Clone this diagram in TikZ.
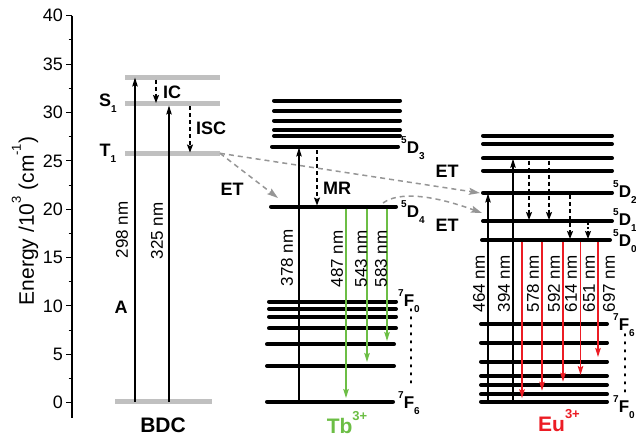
\documentclass[tikz,border=0pt]{standalone}
\usepackage{fontspec}
\setmainfont{Liberation Sans}
\usetikzlibrary{arrows.meta}
\definecolor{lvlgray}{RGB}{192,192,192}
\definecolor{etgray}{RGB}{150,150,150}
\definecolor{tbgreen}{RGB}{108,190,69}
\definecolor{eured}{RGB}{236,28,36}
\newcommand\lsup[1]{\raisebox{0.62em}{\fontsize{10}{10}\selectfont #1}}
\newcommand\lsub[1]{\raisebox{-0.32em}{\fontsize{10}{10}\selectfont #1}}
\newcommand\ionsup[1]{\raisebox{0.62em}{\fontsize{13}{13}\selectfont #1}}
\begin{document}
\begin{tikzpicture}[x=1pt,y=-1pt,
  gl/.style={line width=5pt, draw=lvlgray},
  lvl/.style={line width=4pt, line cap=round},
  arr/.style={line width=1.1pt, -{Stealth[length=9pt,width=5.5pt,inset=1.5pt]}},
  rarr/.style={line width=1.3pt, draw=eured, -{Stealth[length=9pt,width=5.5pt,inset=1.5pt,fill=eured]}},
  garr/.style={line width=1.3pt, draw=tbgreen, -{Stealth[length=9pt,width=5.5pt,inset=1.5pt,fill=tbgreen]}},
  darr/.style={line width=1.5pt, dash pattern=on 4pt off 3pt, -{Stealth[length=8pt,width=6pt,inset=1.5pt]}},
  etarr/.style={draw=etgray, line width=1.5pt, dash pattern=on 5pt off 4pt, -{Stealth[length=11pt,width=7pt,inset=2pt,fill=etgray]}},
  blab/.style={font=\fontsize{18}{18}\selectfont\bfseries, inner sep=0pt},
  nm/.style={font=\fontsize{17}{17}\selectfont, rotate=90, inner sep=0pt},
  tick/.style={font=\fontsize{18}{18}\selectfont, inner sep=0pt, anchor=east},
  slab/.style={font=\fontsize{17}{17}\selectfont\bfseries, inner sep=0pt, anchor=west},
  ]
\useasboundingbox (0,0) rectangle (636,437);
% ---------- axis ----------
\draw[line width=1.1pt] (72,15.5) -- (72,418);
\foreach \v in {0,5,...,40}{
  \draw[line width=1pt] (66,{402.6-9.67*\v}) -- (72,{402.6-9.67*\v});
  \node[tick] (tick\v) at (63,{402.6-9.67*\v}) {\v};
}
\foreach \v in {2.5,7.5,...,37.5}{
  \draw[line width=1pt] (68.5,{402.6-9.67*\v}) -- (72,{402.6-9.67*\v});
}
\node[rotate=90, font=\fontsize{21}{21}\selectfont, inner sep=0pt] (ylab) at (25,221)
  {Energy /10\raisebox{0.62em}{\fontsize{13}{13}\selectfont 3} (cm\raisebox{0.62em}{\fontsize{13}{13}\selectfont -1})};
% ---------- BDC ----------
\draw[gl] (125,77.3) -- (220,77.3);
\draw[gl] (125,103.3) -- (220,103.3);
\draw[gl] (125,153.3) -- (220,153.3);
\draw[gl] (115,401.7) -- (212,401.7);
\draw[arr] (135,401.7) -- (135,77.5);
\draw[arr] (169,401.7) -- (169,105.5);
\draw[darr] (156,79.5) -- (156,103);
\draw[darr] (190,106) -- (190,152.5);
\node[font=\fontsize{18}{18}\selectfont\bfseries, inner sep=0pt] (S1) at (108,103) {S\lsub{1}};
\node[font=\fontsize{18}{18}\selectfont\bfseries, inner sep=0pt] (T1) at (108,153) {T\lsub{1}};
\node[blab] (IC) at (172,92) {IC};
\node[blab] (ISC) at (211,128) {ISC};
\node[nm] (n298) at (122,230) {298 nm};
\node[nm] (n325) at (157,231) {325 nm};
\node[blab] (A) at (121,307) {A};
\node[blab] (ET1) at (232,189) {ET};
\node[font=\fontsize{21}{21}\selectfont\bfseries, inner sep=0pt] (BDC) at (163,425) {BDC};
% ---------- Tb ----------
\foreach \y in {100.7,111,120.7,130,136}{\draw[lvl] (274,\y) -- (400,\y);}
\draw[lvl] (272,146.7) -- (398,146.7);
\draw[lvl] (271,206.7) -- (396,206.7);
\foreach \y in {301.7,309,316.7,328.3}{\draw[lvl] (269,\y) -- (396,\y);}
\foreach \y in {344.3,366}{\draw[lvl] (267,\y) -- (394,\y);}
\draw[lvl] (267,401.7) -- (393,401.7);
\draw[arr] (299,401.7) -- (299,147.5);
\draw[darr] (317,150) -- (317,205.5);
\node[blab] (MR) at (337,188) {MR};
\draw[garr] (346,208.5) -- (346,398);
\draw[garr] (367,208.5) -- (367,362);
\draw[garr] (387,208.5) -- (387,341);
\node[nm] (n378) at (287,258) {378 nm};
\node[nm] (n487) at (337,259) {487 nm};
\node[nm] (n543) at (361,259) {543 nm};
\node[nm] (n583) at (381,259) {583 nm};
\node[slab] (D3) at (401,148) {\lsup{5}D\lsub{3}};
\node[slab] (D4) at (401,212) {\lsup{5}D\lsub{4}};
\node[slab] (F0t) at (398,301) {\lsup{7}F\lsub{0}};
\node[slab] (F6t) at (398,403) {\lsup{7}F\lsub{6}};
\draw[line width=1.8pt, dash pattern=on 1.6pt off 6.4pt, line cap=round] (411,309) -- (411,388);
\node[font=\fontsize{21}{21}\selectfont\bfseries, inner sep=0pt, text=tbgreen] (Tb) at (347,423) {Tb\ionsup{3+}};
% ---------- Eu ----------
\foreach \y in {135.7,144,158.3,170.7,192.7,221}{\draw[lvl] (483,\y) -- (612,\y);}
\draw[lvl] (482,240) -- (610,240);
\foreach \y in {324,342.7,361.7,376,385,394.3,401.7}{\draw[lvl] (481,\y) -- (607,\y);}
\draw[arr] (488,401.7) -- (488,193.5);
\draw[arr] (513,401.7) -- (513,158.8);
\draw[darr] (529,160.5) -- (529,220);
\draw[darr] (549,160.5) -- (549,220);
\draw[darr] (570,195) -- (570,239);
\draw[line width=1.2pt, dash pattern=on 2pt off 2pt, -{Stealth[length=8pt,width=6pt,inset=1.5pt]}] (588,223) -- (588,239);
\draw[rarr] (522,242) -- (522,398.3);
\draw[rarr] (542,242) -- (542,390.7);
\draw[rarr] (563,242) -- (563,381.7);
\draw[rarr] (580.5,242) -- (580.5,375);
\draw[rarr] (598,242) -- (598,357);
\node[nm] (n464) at (479,284) {464 nm};
\node[nm] (n394) at (504,284) {394 nm};
\node[nm] (n578) at (533,284) {578 nm};
\node[nm] (n592) at (554,284) {592 nm};
\node[nm] (n614) at (571,284) {614 nm};
\node[nm] (n651) at (589,284) {651 nm};
\node[nm] (n697) at (609,284) {697 nm};
\node[slab] (D2) at (613,192) {\lsup{5}D\lsub{2}};
\node[slab] (D1) at (613,220) {\lsup{5}D\lsub{1}};
\node[slab] (D0) at (613,241) {\lsup{5}D\lsub{0}};
\node[slab] (F6e) at (613,325) {\lsup{7}F\lsub{6}};
\node[slab] (F0e) at (613,407) {\lsup{7}F\lsub{0}};
\draw[line width=1.8pt, dash pattern=on 1.6pt off 6.4pt, line cap=round] (625,334) -- (625,394);
\node[font=\fontsize{21}{21}\selectfont\bfseries, inner sep=0pt, text=eured] (Eu) at (559,421) {Eu\ionsup{3+}};
\node[blab] (ET2) at (447,171) {ET};
\node[blab] (ET3) at (447,225) {ET};
% ---------- energy transfer ----------
\coordinate (T1r) at (220,153.3);
\coordinate (D4l) at (278,198);
\coordinate (D4r) at (383,203);
\coordinate (D2l) at (480,193);
\coordinate (D1l) at (482,213);
\draw[etarr] (T1r) -- (D4l);
\draw[etarr] (T1r) -- (D2l);
\draw[etarr] (D4r) .. controls (398,192) and (430,194) .. (D1l);
\end{tikzpicture}
\end{document}
